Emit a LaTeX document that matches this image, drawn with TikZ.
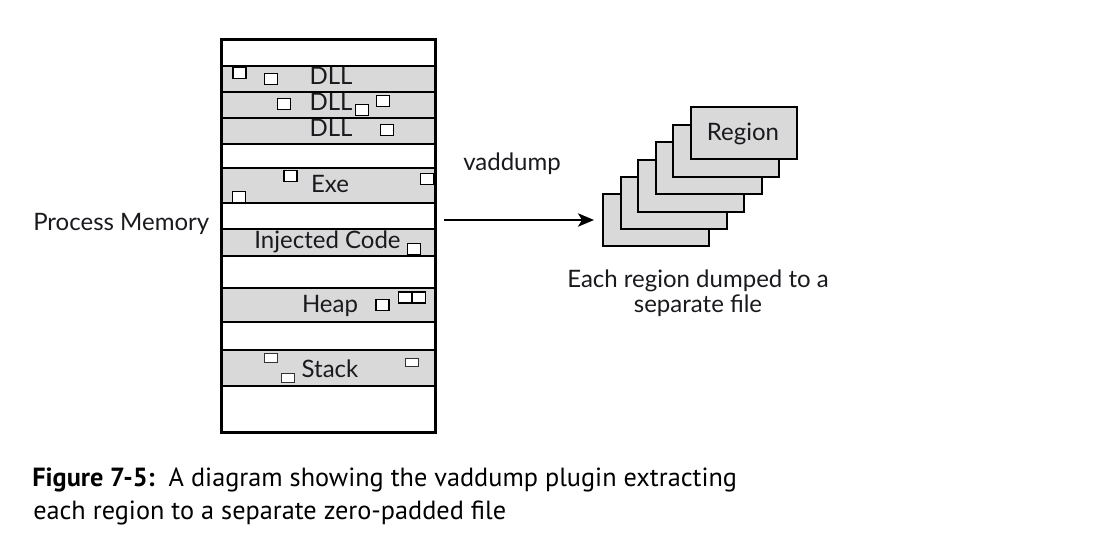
\documentclass[tikz,border=0pt]{standalone}
\usepackage{fontspec}
\setmainfont{Lato}
\newfontfamily\capfont{PT Sans}
\usetikzlibrary{arrows.meta}
\definecolor{bandgray}{RGB}{217,217,217}
\definecolor{txt}{RGB}{25,25,30}
\begin{document}
\begin{tikzpicture}[x=0.75pt,y=-0.75pt,
  band/.style={draw=black,line width=1.5pt,fill=bandgray},
  lbl/.style={anchor=base,inner sep=0pt,text=txt,font=\fontsize{18}{21}\selectfont},
  blk/.style={draw=black,line width=1.1pt,fill=white,inner sep=0pt,minimum width=10pt,minimum height=8pt},
  sblk/.style={draw=black!80,line width=0.7pt,fill=white,inner sep=0pt,minimum width=10pt,minimum height=6.5pt},
  filebox/.style={draw=black,line width=1.5pt,fill=bandgray,inner sep=0pt,minimum width=79.5pt,minimum height=39pt},
  captext/.style={anchor=base west,inner sep=0pt,font=\capfont\fontsize{19.7}{23}\selectfont}
]
\path[use as bounding box] (0,0) rectangle (1095,532);
% memory column
\node[draw=black,line width=1.5pt,fill=white,inner sep=0pt,minimum width=159.75pt,minimum height=294pt] (mem) at (328.5,236) {};
\draw[band] (222,66) rectangle (435,92);
\draw[band] (222,92) rectangle (435,118);
\draw[band] (222,118) rectangle (435,144);
\draw[band] (222,168) rectangle (435,203);
\draw[band] (222,229) rectangle (435,256);
\draw[band] (222,288) rectangle (435,322);
\draw[band] (222,350) rectangle (435,386);
\draw[line width=1.5pt] (mem.north west) rectangle (mem.south east);
% labels
\node[lbl] (dll1) at (331,84) {DLL};
\node[lbl] (dll2) at (331,110) {DLL};
\node[lbl] (dll3) at (331,136) {DLL};
\node[lbl] (exe) at (330,192) {Exe};
\node[lbl] (inj) at (327.5,248) {Injected Code};
\node[lbl] (heap) at (330,312) {Heap};
\node[lbl] (stack) at (330,377) {Stack};
% small blocks
\node[blk] (b1) at (239.5,73) {};
\node[blk] (b2) at (271,79) {};
\node[blk] (b3) at (284,104) {};
\node[blk] (b4) at (362,110) {};
\node[blk] (b5) at (383,101) {};
\node[blk] (b6) at (387,130) {};
\node[blk] (b7) at (290.5,176) {};
\node[blk] (b8) at (427,179) {};
\node[blk] (b9) at (239,197) {};
\node[blk] (b10) at (414,249) {};
\node[blk] (b11) at (382.5,305) {};
\node[blk] (b12) at (405,297.5) {};
\node[blk] (b13) at (419,297.5) {};
\node[sblk] (b14) at (271,358) {};
\node[sblk] (b15) at (288,378) {};
\node[sblk,minimum height=6pt] (b16) at (412,362) {};
% left label
\node[lbl,anchor=base west] (pm) at (33,230) {Process Memory};
% files stack
\node[filebox] (r1) at (656,220) {};
\node[filebox] (r2) at (673.5,202.5) {};
\node[filebox] (r3) at (691,185.5) {};
\node[filebox] (r4) at (709,168) {};
\node[filebox] (r5) at (726,150.5) {};
\node[filebox] (r6) at (744,133) {};
\node[lbl] (reg) at (743,140) {Region};
% arrow
\coordinate (ay) at (0,220);
\draw[line width=1.5pt,-{Stealth[length=12pt,width=10pt,inset=3pt]},shorten <=6pt,shorten >=6pt] (mem.east |- ay) -- (r1.west |- ay);
\node[lbl,anchor=base west] (vd) at (463,170) {vaddump};
\node[lbl] (each1) at (698,287) {Each region dumped to a};
\node[lbl] (each2) at (698,312) {separate file};
% caption
\node[captext] (c1) at (32,486) {\textbf{Figure 7-5:}\ \ A diagram showing the vaddump plugin extracting};
\node[captext] (c2) at (33,519) {each region to a separate zero-padded file};
\end{tikzpicture}
\end{document}
